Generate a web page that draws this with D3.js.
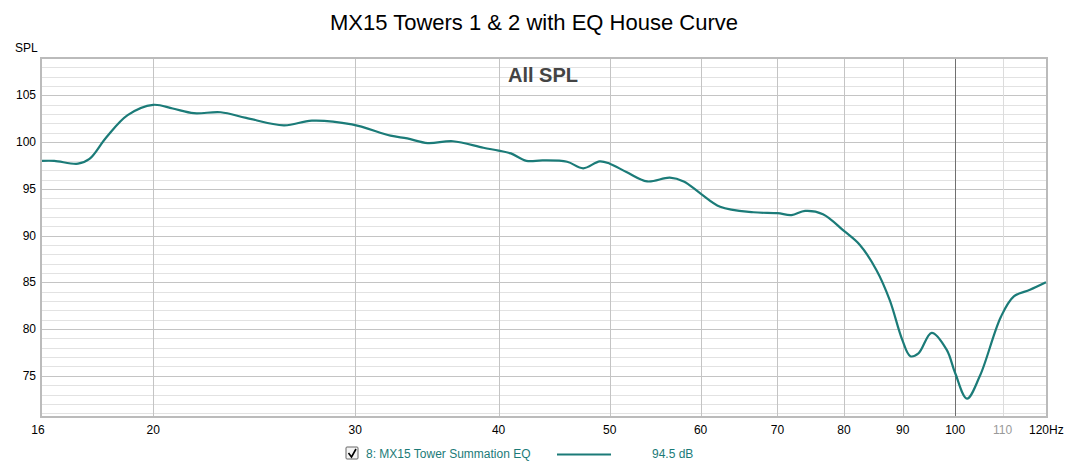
<!DOCTYPE html>
<html>
<head>
<meta charset="utf-8">
<script src="https://cdn.jsdelivr.net/npm/d3@7"></script>
<style>
  body { margin: 0; background: #fff; }
  text { font-family: "Liberation Sans", Arial, sans-serif; }
</style>
</head>
<body>
<svg id="chart" width="1068" height="469"></svg>
<script>
    "use strict";

    // frequency (Hz) and SPL (dB)
    var freqs = [16, 16.4, 17.2, 17.6, 18.2, 19.0, 20, 20.8, 21.7, 22.9, 24.1, 26.0, 27.5, 29.8,
                 32.2, 33.3, 34.7, 36.5, 38.8, 40, 41, 42.3, 43.7, 45.9, 47.4, 49.0, 50, 51.7,
                 53.9, 56.4, 58.0, 60, 62.4, 66.7, 70, 72.0, 74.0, 76.7, 80, 82.6, 85.4, 87.7,
                 89.9, 91.4, 92.9, 95.4, 98.3, 100, 102.4, 105.1, 109.6, 112.5, 116.2, 120];
    var spl = [98.0, 98.0, 97.7, 98.2, 100.5, 102.9, 104.0, 103.6, 103.1, 103.2, 102.6, 101.8, 102.3, 101.9,
               100.7, 100.4, 99.9, 100.1, 99.4, 99.1, 98.8, 98.0, 98.05, 97.9, 97.2, 97.95, 97.7, 96.8,
               95.8, 96.2, 95.8, 94.5, 93.1, 92.5, 92.4, 92.2, 92.65, 92.3, 90.5, 89.0, 86.3, 83.1,
               78.9, 77.1, 77.4, 79.6, 77.8, 75.3, 72.55, 75.0, 81.3, 83.5, 84.2, 85.0];
    var xTicks = [16, 20, 30, 40, 50, 60, 70, 80, 90, 100, 110, 120];
    var yTicks = [75, 80, 85, 90, 95, 100, 105];

    (function () {
        var teal = "#1b7b78",
            left = 42, right = 1046, plotTop = 59, plotBottom = 416,
            svg = d3.select("#chart");

        var x = d3.scaleLog().domain([16, 120]).range([left, right]);
        var y = d3.scaleLinear().domain([70.7, 108.9]).range([plotBottom, plotTop]);

        svg.append("text").attr("x", 534).attr("y", 30).attr("text-anchor", "middle")
            .attr("font-size", 22).attr("fill", "#000").text("MX15 Towers 1 & 2 with EQ House Curve");

        // frame with a soft shadow
        svg.append("rect").attr("x", left - 2).attr("y", plotTop - 2).attr("width", right - left + 4)
            .attr("height", plotBottom - plotTop + 4).attr("fill", "#bbb");
        svg.append("rect").attr("x", left).attr("y", plotTop).attr("width", right - left)
            .attr("height", plotBottom - plotTop).attr("fill", "#fff");

        // horizontal grid, every dB
        svg.append("g").selectAll("line").data(d3.range(71, 109))
            .join("line")
            .attr("x1", left).attr("x2", right)
            .attr("y1", function (d) { return Math.round(y(d)) + 0.5; })
            .attr("y2", function (d) { return Math.round(y(d)) + 0.5; })
            .attr("stroke", function (d) { return d % 5 === 0 ? "#c4c4c4" : "#e2e2e2"; });

        // vertical grid
        svg.append("g").selectAll("line").data(xTicks.slice(1, -1))
            .join("line")
            .attr("y1", plotTop).attr("y2", plotBottom)
            .attr("x1", function (d) { return Math.round(x(d)) + 0.5; })
            .attr("x2", function (d) { return Math.round(x(d)) + 0.5; })
            .attr("stroke", function (d) { return d === 100 ? "#707070" : (d === 110 ? "#dcdcdc" : "#c4c4c4"); });

        svg.append("text").attr("x", 543).attr("y", 82).attr("text-anchor", "middle")
            .attr("font-size", 20).attr("font-weight", "bold").attr("fill", "#444").text("All SPL");

        // curve
        var line = d3.line()
            .x(function (d, i) { return x(freqs[i]); })
            .y(function (d) { return y(d); })
            .curve(d3.curveCatmullRom.alpha(0.5));
        svg.append("path").datum(spl).attr("d", line)
            .attr("fill", "none").attr("stroke", teal).attr("stroke-width", 2.2);

        // axis labels
        svg.append("g").selectAll("text").data(yTicks).join("text")
            .attr("x", 36).attr("y", function (d) { return y(d) + 4; })
            .attr("text-anchor", "end").attr("font-size", 12).attr("fill", "#000")
            .text(function (d) { return d; });
        svg.append("text").attr("x", 15).attr("y", 52).attr("font-size", 12).text("SPL");

        svg.append("g").selectAll("text").data(xTicks).join("text")
            .attr("x", function (d) { return d === 16 ? x(d) - 4 : x(d); })
            .attr("y", 434)
            .attr("text-anchor", function (d) { return d === 120 ? "start" : "middle"; })
            .attr("dx", function (d) { return d === 120 ? -17 : 0; })
            .attr("font-size", 12)
            .attr("fill", function (d) { return d === 110 ? "#999" : "#000"; })
            .text(function (d) { return d === 120 ? "120Hz" : d; });

        // legend
        var lg = svg.append("g");
        lg.append("rect").attr("x", 346).attr("y", 447).attr("width", 12).attr("height", 12)
            .attr("fill", "#f4f4f4").attr("stroke", "#666").attr("rx", 1);
        lg.append("path").attr("d", "M348.5,453 L351.5,457 L356,449").attr("fill", "none")
            .attr("stroke", "#000").attr("stroke-width", 1.6);
        lg.append("text").attr("x", 366).attr("y", 458).attr("font-size", 12).attr("fill", teal)
            .text("8: MX15 Tower Summation EQ");
        lg.append("line").attr("x1", 557).attr("x2", 611).attr("y1", 454.5).attr("y2", 454.5)
            .attr("stroke", teal).attr("stroke-width", 2);
        lg.append("text").attr("x", 652).attr("y", 458).attr("font-size", 12).attr("fill", teal)
            .text("94.5 dB");
    }());
</script>
</body>
</html>
